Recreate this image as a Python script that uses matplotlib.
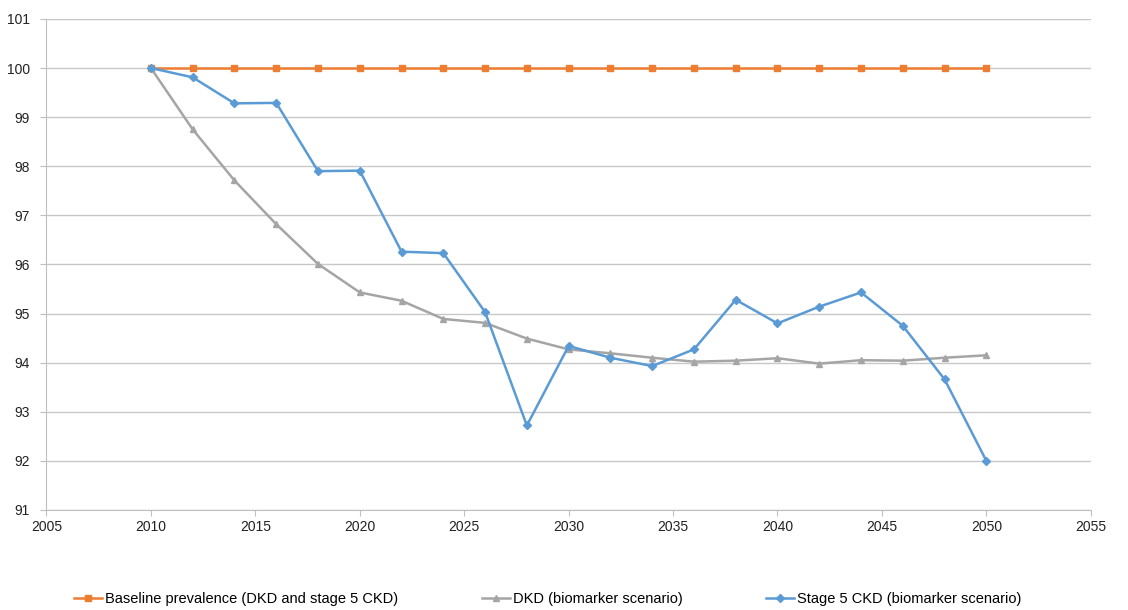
import matplotlib.pyplot as plt

plt.rcParams['font.family'] = ['Liberation Sans', 'DejaVu Sans']

years = [2010, 2012, 2014, 2016, 2018, 2020, 2022, 2024, 2026, 2028, 2030,
         2032, 2034, 2036, 2038, 2040, 2042, 2044, 2046, 2048, 2050]

baseline = [100] * 21
dkd = [100, 98.75, 97.71, 96.82, 96.01, 95.43, 95.26, 94.89, 94.81, 94.49, 94.27,
       94.19, 94.10, 94.02, 94.04, 94.09, 93.98, 94.05, 94.04, 94.10, 94.15]
ckd5 = [100, 99.81, 99.28, 99.29, 97.90, 97.91, 96.26, 96.23, 95.03, 92.72, 94.34,
        94.10, 93.93, 94.27, 95.28, 94.80, 95.14, 95.43, 94.75, 93.66, 92.00]

labels = ['Baseline prevalence (DKD and stage 5 CKD)',
          'DKD (biomarker scenario)',
          'Stage 5 CKD (biomarker scenario)']

fig = plt.figure(figsize=(11.28, 6.10), dpi=100)
ax = fig.add_axes([0.0412, 0.164, 0.9258, 0.805])

ax.plot(years, baseline, color='#ED7D31', lw=1.8, marker='s', ms=5, label=labels[0])
ax.plot(years, dkd, color='#A5A5A5', lw=1.8, marker='^', ms=5, label=labels[1])
ax.plot(years, ckd5, color='#5B9BD5', lw=1.8, marker='D', ms=4, label=labels[2])

ax.set_xlim(2005, 2055)
ax.set_ylim(91, 101)
ax.set_xticks(range(2005, 2056, 5))
ax.set_yticks(range(91, 102))
ax.grid(axis='y', color='#c8c8c8', lw=1)
ax.set_axisbelow(True)

for s in ['top', 'right']:
    ax.spines[s].set_visible(False)
for s in ['left', 'bottom']:
    ax.spines[s].set_color('#bfbfbf')
ax.tick_params(colors='#bfbfbf', labelcolor='#222222', labelsize=10, length=4)
ax.tick_params(axis='y', pad=8)

# legend row under the plot
ax.legend(loc='center', bbox_to_anchor=(0.480, -0.182), ncol=3, frameon=False,
          fontsize=10.5, handlelength=1.9, columnspacing=5.75, handletextpad=0.2)

fig.savefig('out.png', dpi=100)
